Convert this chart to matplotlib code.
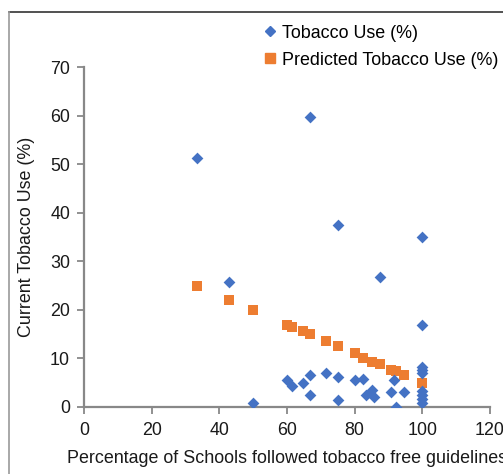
import matplotlib
matplotlib.use('Agg')
import matplotlib.pyplot as plt
from matplotlib.lines import Line2D

plt.rcParams['font.family'] = ['Liberation Sans', 'DejaVu Sans']

# observed tobacco use per state
schools_pct = [33.3, 42.9, 50.0, 60.0, 61.5, 64.7, 66.7, 66.7, 66.7, 71.4, 75.0, 75.0, 75.0,
               80.0, 82.4, 83.3, 85.2, 85.7, 87.5, 90.9, 91.7, 92.3, 94.7,
               100, 100, 100, 100, 100, 100, 100, 100, 100]
tobacco_use = [51.3, 25.6, 0.7, 5.4, 4.3, 4.95, 6.5, 2.5, 59.7, 6.9, 6.1, 1.4, 37.4,
               5.4, 5.8, 2.4, 3.4, 1.9, 26.7, 3.0, 5.6, 0.0, 3.0,
               35.0, 16.8, 8.2, 7.6, 7.0, 3.3, 2.5, 1.65, 0.7]

# regression prediction
pred_x = [33.3, 42.9, 50.0, 60.0, 61.5, 64.7, 66.7, 71.4, 75.0, 80.0, 82.4, 85.2, 87.5,
          90.9, 92.3, 94.7, 100]
pred_y = [24.9, 22.0, 19.9, 16.9, 16.5, 15.5, 14.9, 13.5, 12.45, 11.0, 10.1, 9.3, 8.9,
          7.6, 7.3, 6.5, 4.95]

blue = '#4472C4'
orange = '#ED7D31'
axis_gray = '#888888'
fs = 12.9

fig = plt.figure(figsize=(5.03, 4.74), dpi=100)
ax = fig.add_axes([0.167, 0.142, 0.807, 0.7166])

ax.scatter(pred_x, pred_y, marker='s', s=62, color=orange, linewidths=0, zorder=2)
ax.scatter(schools_pct, tobacco_use, marker='D', s=36, color=blue, linewidths=0, zorder=3)

ax.set_xlim(0, 120)
ax.set_ylim(0, 70)
ax.set_xticks(range(0, 121, 20))
ax.set_yticks(range(0, 71, 10))
for s in ['top', 'right']:
    ax.spines[s].set_visible(False)
for s in ['left', 'bottom']:
    ax.spines[s].set_color(axis_gray)
    ax.spines[s].set_linewidth(1.6)
ax.tick_params(axis='both', direction='out', length=5, width=1.3, color=axis_gray,
               labelsize=fs, labelcolor='#1a1a1a', pad=5)
ax.tick_params(axis='x', pad=6)

ax.set_xlabel('Percentage of Schools followed tobacco free guidelines', fontsize=fs,
              color='#1a1a1a', labelpad=8)
ax.set_ylabel('Current Tobacco Use (%)', fontsize=fs, color='#1a1a1a', labelpad=11)

handles = [Line2D([], [], marker='D', ls='', color=blue, markersize=5),
           Line2D([], [], marker='s', ls='', color=orange, markersize=7)]
fig.legend(handles, ['Tobacco Use (%)', 'Predicted Tobacco Use (%)'],
           loc='upper left', bbox_to_anchor=(0.527, 0.948), frameon=False,
           fontsize=fs, handlelength=0.6, handletextpad=0.35, labelspacing=0.55,
           borderaxespad=0, borderpad=0)

# outer frame
fig.add_artist(Line2D([9 / 503, 1.0], [1 - 12 / 474, 1 - 12 / 474],
                      transform=fig.transFigure, color='#333333', lw=1.2))
fig.add_artist(Line2D([9 / 503, 9 / 503], [0, 1 - 12 / 474],
                      transform=fig.transFigure, color='#999999', lw=1.2))

fig.savefig('out.png', dpi=100)
